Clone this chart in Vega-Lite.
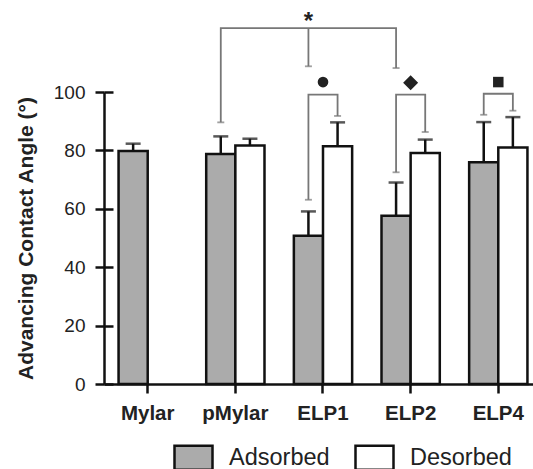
{
  "$schema": "https://vega.github.io/schema/vega-lite/v6.json",
  "width": 429,
  "height": 292,
  "autosize": {"type": "none"},
  "padding": {"left": 104, "top": 92, "right": 0, "bottom": 85},
  "background": "white",
  "config": {
    "view": {"stroke": null},
    "font": "Liberation Sans",
    "axis": {"grid": false, "labelColor": "#222", "titleColor": "#222", "domainColor": "#111", "tickColor": "#111"}
  },
  "datasets": {
    "bars": [
      {"cat": "Mylar", "grp": "Adsorbed", "mean": 79.8, "upper": 82.3},
      {"cat": "pMylar", "grp": "Adsorbed", "mean": 78.8, "upper": 84.8},
      {"cat": "pMylar", "grp": "Desorbed", "mean": 81.7, "upper": 84.0},
      {"cat": "ELP1", "grp": "Adsorbed", "mean": 50.8, "upper": 59.1},
      {"cat": "ELP1", "grp": "Desorbed", "mean": 81.4, "upper": 89.6},
      {"cat": "ELP2", "grp": "Adsorbed", "mean": 57.6, "upper": 69.0},
      {"cat": "ELP2", "grp": "Desorbed", "mean": 79.1, "upper": 83.7},
      {"cat": "ELP4", "grp": "Adsorbed", "mean": 75.9, "upper": 89.7},
      {"cat": "ELP4", "grp": "Desorbed", "mean": 81.0, "upper": 91.4}
    ],
    "brackets": [
      {"id": "s", "step": 1, "cat": "pMylar", "grp": "Adsorbed", "v": 89.6},
      {"id": "s", "step": 2, "cat": "pMylar", "grp": "Adsorbed", "v": 121.9},
      {"id": "s", "step": 3, "cat": "ELP2", "grp": "Adsorbed", "v": 121.9},
      {"id": "s", "step": 4, "cat": "ELP2", "grp": "Adsorbed", "v": 108.2},
      {"id": "s2", "step": 1, "cat": "ELP1", "grp": "Adsorbed", "v": 121.9},
      {"id": "s2", "step": 2, "cat": "ELP1", "grp": "Adsorbed", "v": 108.8},
      {"id": "c", "step": 1, "cat": "ELP1", "grp": "Adsorbed", "v": 63.1},
      {"id": "c", "step": 2, "cat": "ELP1", "grp": "Adsorbed", "v": 99.1},
      {"id": "c", "step": 3, "cat": "ELP1", "grp": "Desorbed", "v": 99.1},
      {"id": "c", "step": 4, "cat": "ELP1", "grp": "Desorbed", "v": 91.8},
      {"id": "d", "step": 1, "cat": "ELP2", "grp": "Adsorbed", "v": 72.5},
      {"id": "d", "step": 2, "cat": "ELP2", "grp": "Adsorbed", "v": 99.1},
      {"id": "d", "step": 3, "cat": "ELP2", "grp": "Desorbed", "v": 99.1},
      {"id": "d", "step": 4, "cat": "ELP2", "grp": "Desorbed", "v": 86.3},
      {"id": "q", "step": 1, "cat": "ELP4", "grp": "Adsorbed", "v": 92.2},
      {"id": "q", "step": 2, "cat": "ELP4", "grp": "Adsorbed", "v": 99.4},
      {"id": "q", "step": 3, "cat": "ELP4", "grp": "Desorbed", "v": 99.4},
      {"id": "q", "step": 4, "cat": "ELP4", "grp": "Desorbed", "v": 93.6}
    ],
    "ends": [
      {"cat": "pMylar", "grp": "Adsorbed", "v": 89.6},
      {"cat": "ELP1", "grp": "Adsorbed", "v": 108.8},
      {"cat": "ELP2", "grp": "Adsorbed", "v": 108.2},
      {"cat": "ELP1", "grp": "Adsorbed", "v": 63.1},
      {"cat": "ELP1", "grp": "Desorbed", "v": 91.8},
      {"cat": "ELP2", "grp": "Adsorbed", "v": 72.5},
      {"cat": "ELP2", "grp": "Desorbed", "v": 86.3},
      {"cat": "ELP4", "grp": "Adsorbed", "v": 92.2},
      {"cat": "ELP4", "grp": "Desorbed", "v": 93.6}
    ],
    "markers": [
      {"cat": "ELP1", "sym": "circle", "v": 103.4},
      {"cat": "ELP2", "sym": "diamond", "v": 103.2},
      {"cat": "ELP4", "sym": "square", "v": 103.4}
    ],
    "stars": [
      {"cat": "ELP1", "grp": "Adsorbed", "v": 124.0, "label": "*"}
    ]
  },
  "encoding": {
    "x": {
      "field": "cat", "type": "nominal",
      "scale": {"domain": ["Mylar", "pMylar", "ELP1", "ELP2", "ELP4"], "paddingInner": 0.335, "paddingOuter": 0.1148, "align": 0.7236},
      "axis": {"title": null, "labelAngle": 0, "labelFontWeight": "bold", "labelFontSize": 20.5, "labelPadding": 10, "tickSize": 9, "tickWidth": 2.5, "domainWidth": 2.5}
    },
    "xOffset": {"field": "grp", "type": "nominal", "scale": {"domain": ["Adsorbed", "Desorbed"], "paddingInner": 0, "paddingOuter": 0}}
  },
  "layer": [
    {
      "data": {"name": "bars"},
      "mark": {"type": "bar", "stroke": "#111", "strokeWidth": 2.5},
      "encoding": {
        "y": {
          "field": "mean", "type": "quantitative",
          "scale": {"domain": [0, 100], "nice": false, "clamp": false},
          "axis": {"orient": "left", "values": [0, 20, 40, 60, 80, 100], "title": "Advancing Contact Angle (°)", "titleFontWeight": "bold", "titleFontSize": 21, "titlePadding": 17, "labelFontSize": 19, "labelPadding": 10, "tickSize": 9, "tickWidth": 2.5, "domainWidth": 2.5}
        },
        "color": {
          "field": "grp", "type": "nominal",
          "scale": {"domain": ["Adsorbed", "Desorbed"], "range": ["#ababab", "#ffffff"]},
          "legend": {"orient": "none", "legendX": 69, "legendY": 345, "direction": "horizontal", "title": null, "padding": 0, "symbolType": "M-1,-0.63H1V0.63H-1Z", "symbolSize": 1444, "symbolStrokeColor": "#111", "symbolStrokeWidth": 2.5, "symbolOpacity": 1, "labelFontSize": 23.5, "labelOffset": 15, "labelColor": "#222", "labelBaseline": "middle", "columnPadding": 20}
        }
      }
    },
    {
      "data": {"name": "bars"},
      "mark": {"type": "rule", "color": "#111", "strokeWidth": 2.5},
      "encoding": {
        "y": {"field": "mean", "type": "quantitative", "axis": {"orient": "left", "values": [0, 20, 40, 60, 80, 100], "labels": false, "domain": false, "title": null, "tickSize": -9, "tickWidth": 2.5}},
        "y2": {"field": "upper"}
      }
    },
    {
      "data": {"name": "bars"},
      "mark": {"type": "tick", "color": "#111", "size": 15, "thickness": 2.5, "orient": "horizontal"},
      "encoding": {
        "y": {"field": "upper", "type": "quantitative", "axis": null}
      }
    },
    {
      "data": {"name": "brackets"},
      "mark": {"type": "line", "color": "#777", "strokeWidth": 1.8},
      "encoding": {
        "y": {"field": "v", "type": "quantitative", "axis": null},
        "detail": {"field": "id"},
        "order": {"field": "step", "type": "quantitative"}
      }
    },
    {
      "data": {"name": "ends"},
      "mark": {"type": "tick", "color": "#777", "size": 7, "thickness": 1.8, "orient": "horizontal"},
      "encoding": {
        "y": {"field": "v", "type": "quantitative", "axis": null}
      }
    },
    {
      "data": {"name": "markers"},
      "transform": [{"filter": "datum.sym === 'circle'"}],
      "mark": {"type": "point", "shape": "circle", "filled": true, "color": "#222", "opacity": 1, "size": 114},
      "encoding": {
        "xOffset": null,
        "y": {"field": "v", "type": "quantitative", "axis": null}
      }
    },
    {
      "data": {"name": "markers"},
      "transform": [{"filter": "datum.sym === 'diamond'"}],
      "mark": {"type": "point", "shape": "diamond", "filled": true, "color": "#222", "opacity": 1, "size": 225},
      "encoding": {
        "xOffset": null,
        "y": {"field": "v", "type": "quantitative", "axis": null}
      }
    },
    {
      "data": {"name": "markers"},
      "transform": [{"filter": "datum.sym === 'square'"}],
      "mark": {"type": "point", "shape": "square", "filled": true, "color": "#222", "opacity": 1, "size": 110},
      "encoding": {
        "xOffset": null,
        "y": {"field": "v", "type": "quantitative", "axis": null}
      }
    },
    {
      "data": {"name": "stars"},
      "mark": {"type": "text", "color": "#222", "fontSize": 24, "fontWeight": "bold", "baseline": "middle", "align": "center"},
      "encoding": {
        "y": {"field": "v", "type": "quantitative", "axis": null},
        "text": {"field": "label"}
      }
    }
  ],
  "resolve": {"axis": {"y": "independent"}}
}
